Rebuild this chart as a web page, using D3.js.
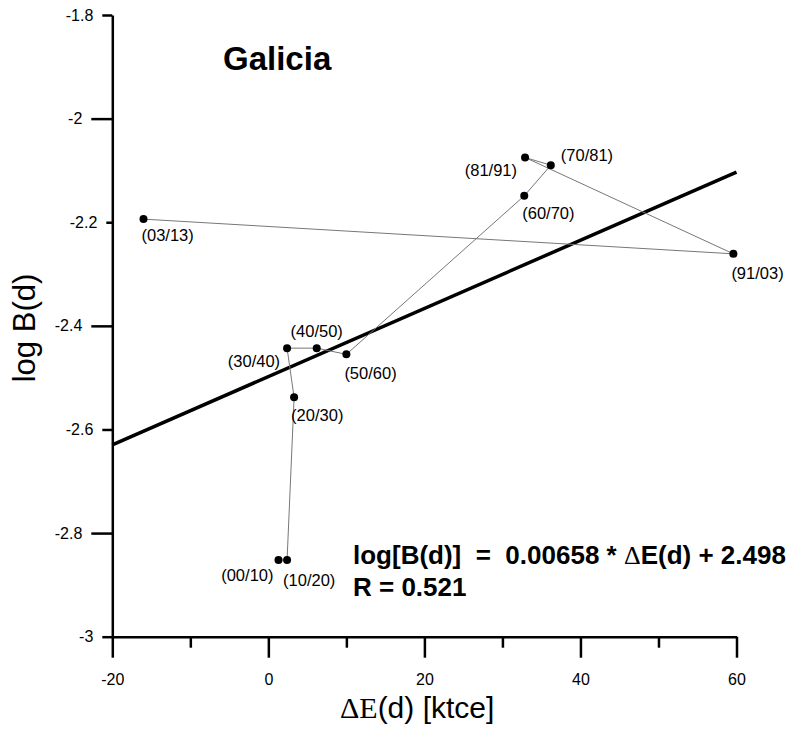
<!DOCTYPE html>
<html>
<head>
<meta charset="utf-8">
<script src="https://cdn.jsdelivr.net/npm/d3@7"></script>
<style>
  html, body { margin: 0; padding: 0; background: #fff; }
  svg { display: block; }
  text { font-family: "Liberation Sans", Arial, sans-serif; fill: #000; }
</style>
</head>
<body>
<svg id="chart" width="790" height="730"></svg>
<script>
// Decade-pair periods, in chronological order (the path follows this order)
const periods = ["(00/10)", "(10/20)", "(20/30)", "(30/40)", "(40/50)", "(50/60)",
                 "(60/70)", "(70/81)", "(81/91)", "(91/03)", "(03/13)"];
// ΔE(d) in ktce for each period
const deltaE = [1.3, 2.4, 3.3, 2.4, 6.2, 10.0, 32.8, 36.2, 32.9, 59.6, -16.0];
// log B(d) for each period
const logB = [-2.852, -2.852, -2.538, -2.443, -2.443, -2.455, -2.149, -2.090, -2.075, -2.261, -2.194];

// Linear fit: log[B(d)] = slope * ΔE(d) + intercept
const fitSlope = [0.00658];
const fitIntercept = [-2.498];
const fitR = [0.521];

// Axis ticks
const xTicks = [-20, 0, 20, 40, 60];
const xMinorTicks = [-10, 10, 30, 50];
const yTicks = [-1.8, -2, -2.2, -2.4, -2.6, -2.8, -3];

const title = "Galicia";

// ---- layout ----
const svg = d3.select("#chart");
const x = d3.scaleLinear().domain([-20, 60]).range([112.3, 736.5]);
const y = d3.scaleLinear().domain([-3, -1.8]).range([636.7, 15]);
const axisY = y(-3);
const axisX = x(-20);
const plainNum = d => String(d);

// Label placement around each point: [dx, dy, anchor]
const labelPlace = [
  [-5, 21, "end"], [-4, 26, "start"], [-3, 24, "start"], [-7, 19, "end"],
  [0, -11, "middle"], [-2, 25, "start"], [-2, 23, "start"], [10, -4, "start"],
  [-8, 19, "end"], [-2, 25, "start"], [-2, 22, "start"]
];

// ---- x axis ----
const gx = svg.append("g").attr("transform", `translate(0,${axisY})`)
  .call(d3.axisBottom(x).tickValues(xTicks).tickSize(21).tickSizeOuter(0)
        .tickPadding(16).tickFormat(plainNum));
const gxm = svg.append("g").attr("transform", `translate(0,${axisY})`)
  .call(d3.axisBottom(x).tickValues(xMinorTicks).tickSize(11).tickSizeOuter(0).tickFormat(""));
gxm.select(".domain").remove();
[gx, gxm].forEach(g => {
  g.selectAll(".domain").attr("stroke", "#000").attr("stroke-width", 2.5);
  g.selectAll(".tick line").attr("stroke", "#000").attr("stroke-width", 2.5);
});
gx.selectAll(".tick text").attr("font-size", 16).attr("font-family", "Liberation Sans, Arial, sans-serif").attr("fill", "#000");

// ---- y axis ----
const yTickLen = [10, 21, 6, 21, 10, 21, 10];
const gy = svg.append("g").attr("transform", `translate(${axisX},0)`)
  .call(d3.axisLeft(y).tickValues(yTicks).tickSizeOuter(0).tickFormat(plainNum));
gy.select(".domain").attr("stroke", "#000").attr("stroke-width", 2.5);
gy.selectAll(".tick").each(function(d, i) {
  const t = d3.select(this);
  t.select("line").attr("x2", -yTickLen[i]).attr("stroke", "#000").attr("stroke-width", 2.5);
  t.select("text").attr("x", -yTickLen[i] - 9)
    .attr("font-size", 16).attr("font-family", "Liberation Sans, Arial, sans-serif").attr("fill", "#000");
});

// ---- regression line ----
const fit = d => fitSlope[0] * d + fitIntercept[0];
svg.append("line")
  .attr("x1", x(-20)).attr("y1", y(fit(-20)))
  .attr("x2", x(60)).attr("y2", y(fit(60)))
  .attr("stroke", "#000").attr("stroke-width", 3.5);

// ---- trajectory ----
const pts = periods.map((p, i) => ({ p, e: deltaE[i], b: logB[i], place: labelPlace[i] }));
svg.append("path")
  .datum(pts)
  .attr("fill", "none").attr("stroke", "#777").attr("stroke-width", 1)
  .attr("d", d3.line().x(d => x(d.e)).y(d => y(d.b)));

svg.selectAll("circle.pt").data(pts).join("circle")
  .attr("class", "pt")
  .attr("cx", d => x(d.e)).attr("cy", d => y(d.b)).attr("r", 4)
  .attr("fill", "#000");

svg.selectAll("text.lbl").data(pts).join("text")
  .attr("class", "lbl")
  .attr("x", d => x(d.e) + d.place[0])
  .attr("y", d => y(d.b) + d.place[1])
  .attr("text-anchor", d => d.place[2])
  .attr("font-size", 16.5)
  .text(d => d.p);

// ---- title ----
svg.append("text").attr("x", 223).attr("y", 69.5)
  .attr("font-size", 33).attr("font-weight", "bold").text(title);

// ---- fit equation ----
const eq = svg.append("text").attr("x", 353).attr("y", 564)
  .attr("font-size", 26).attr("font-weight", "bold").attr("xml:space", "preserve");
eq.append("tspan").text(`log[B(d)]  =  ${fitSlope[0]} * `);
eq.append("tspan").attr("font-family", "Liberation Serif, serif").attr("font-weight", "normal").text("Δ");
eq.append("tspan").text(`E(d) + ${Math.abs(fitIntercept[0]).toFixed(3)}`);
svg.append("text").attr("x", 353).attr("y", 596)
  .attr("font-size", 26).attr("font-weight", "bold").text(`R = ${fitR[0]}`);

// ---- axis titles ----
const xt = svg.append("text").attr("x", 340).attr("y", 718).attr("font-size", 30);
xt.append("tspan").attr("font-family", "Liberation Serif, serif").text("ΔE");
xt.append("tspan").text("(d) [ktce]");

svg.append("text")
  .attr("transform", `translate(35,328) rotate(-90)`)
  .attr("text-anchor", "middle").attr("font-size", 31)
  .text("log B(d)");
</script>
</body>
</html>
